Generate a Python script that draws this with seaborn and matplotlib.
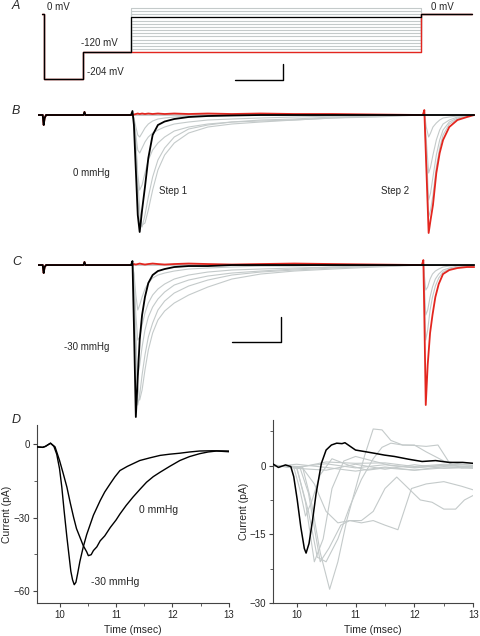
import matplotlib
matplotlib.use('Agg')
import matplotlib.pyplot as plt
from matplotlib.ticker import MultipleLocator
import seaborn as sns

#%% Datos

# Panel A: protocolo de voltaje (tiempo en ms, voltaje en mV)
t_protocolo = [0.4, 0.8, 9.0, 19.0, 79.4, 90.0]
v_prepulso = [0, -204, -120]
v_pasos = [20, 10, 0, -10, -20, -30, -40, -50, -60, -70, -80, -90, -100, -110, -120]
v_negro = -10
v_rojo = -120

# Linea de base comun (artefactos de los saltos de voltaje)
t_base = [-0.4, 0.6, 0.8, 1.0, 1.3, 9.1, 9.3, 9.5, 19.0]
b_base = [0, 0, -10, -3, 0, 0, 3, 0, 0]
c_base = [0, 0, -8, -2, 0, 0, 3, 0, 0]

t_paso1 = [19.3, 19.6, 20.0, 20.4, 20.8, 21.3, 21.9, 22.6, 23.5, 24.6,
           26, 28, 31, 35, 40, 46, 53, 61, 70, 79.5]
t_plano1 = [19.3, 79.5]
t_plano2 = [79.8, 90.5]

# Panel B (0 mmHg), corriente en pA
b_negro1 = [4, -10, -55, -100, -117, -95, -72, -43, -20, -10,
            -6.5, -4, -2, -1, -0.5, 0, 0, 0, 0, 0]
b_rojo1 = [0, 0.5, 1, 1.5, 1, 1.5, 1, 1.5, 1, 1.5,
           1, 1.5, 1, 1.5, 1, 1.5, 1, 1, 0.5, 0]
b_gris1 = [
    [0, -5, -35, -80, -108, -112, -100, -82, -62, -45, -33, -22, -14, -10, -7, -6, -5, -3, -1, 0],
    [0, -3, -25, -65, -95, -110, -108, -95, -75, -55, -40, -28, -18, -12, -9, -7, -5, -3, -2, 0],
    [0, -5, -30, -60, -75, -70, -58, -45, -35, -28, -22, -16, -12, -9, -7, -5, -4, -2, -1, 0],
    [0, -4, -20, -35, -38, -33, -27, -22, -18, -15, -12, -9, -7, -5, -4, -3, -2, -1, 0, 0],
    [0, -3, -12, -20, -22, -18, -13, -9, -6, -4, -3, -2, -1, -1, 0, 0, 0, 0, 0, 0],
]
b_t2 = [79.8, 80.1, 80.5, 81.0, 81.4, 81.9, 82.6, 83.3, 84.0, 85.3, 87, 89, 90.5]
b_rojo2 = [0, 5, -50, -118, -105, -90, -58, -38, -25, -12, -5, -2, 0]
b_gris2 = [
    [0, 3, -12, -22, -18, -12, -8, -5, -3, -2, -1, 0, 0],
    [0, 3, -25, -58, -52, -40, -25, -15, -9, -5, -2, -1, 0],
    [0, 3, -35, -85, -78, -62, -40, -25, -15, -7, -3, -1, 0],
    [0, 4, -45, -102, -95, -80, -52, -33, -20, -9, -4, -1, 0],
]

# Panel C (-30 mmHg)
c_negro1 = [4, -60, -152, -112, -75, -50, -32, -18, -10, -6,
            -4, -2, -1, -1, 0, 0, 0, 0, 0, 0]
c_rojo1 = [0, 1, 0.5, 1, 1.5, 1, 0.5, 1, 1.5, 1,
           0.5, 1, 1.5, 1, 0.5, 1, 1.5, 1, 0.5, 0]
c_gris1 = [
    [0, -20, -90, -140, -130, -110, -90, -72, -58, -45, -36, -28, -21, -15, -10, -7, -5, -3, -1, 0],
    [0, -15, -70, -120, -135, -125, -105, -85, -68, -55, -46, -38, -30, -22, -14, -9, -6, -4, -2, 0],
    [0, -20, -80, -110, -100, -82, -65, -52, -42, -34, -27, -20, -15, -11, -8, -6, -4, -2, -1, 0],
    [0, -10, -50, -75, -72, -60, -48, -38, -30, -24, -19, -14, -10, -7, -5, -4, -3, -2, -1, 0],
    [0, -8, -30, -45, -40, -32, -24, -18, -13, -10, -8, -6, -4, -3, -2, -1, -1, 0, 0, 0],
]
c_t2 = [79.6, 79.9, 80.1, 80.4, 80.8, 81.3, 81.8, 82.4, 83.1, 84, 85.3, 87, 89, 90.5]
c_rojo2 = [0, 5, -50, -140, -100, -68, -50, -32, -19, -9, -5, -3, -2, -2]
c_gris2 = [
    [0, 3, -10, -25, -22, -14, -9, -6, -4, -2, -1, 0, 0, 0],
    [0, 3, -20, -50, -45, -32, -22, -14, -9, -5, -3, -1, 0, 0],
    [0, 4, -30, -75, -65, -45, -32, -21, -13, -7, -4, -2, -1, 0],
]

# Panel D izquierdo: promedios
d_t0 = [9.6, 9.7, 9.75, 9.84, 9.92, 10.0, 10.06, 10.13, 10.19, 10.25, 10.3, 10.36,
        10.42, 10.48, 10.51, 10.56, 10.6, 10.66, 10.72, 10.8, 10.9, 11.0, 11.07,
        11.18, 11.3, 11.42, 11.54, 11.66, 11.78, 11.95, 12.13, 12.3, 12.48,
        12.63, 12.78, 13.0]
d_0mmHg = [-1, -1.2, -0.8, 0.5, -1, -6.6, -11.5, -17.5, -24, -30, -34.5, -38,
           -41.5, -44, -45.6, -45.2, -43.5, -42, -39.5, -37.5, -34, -31, -28.5,
           -25, -21.6, -18.5, -15.5, -13.2, -11.4, -9, -6.6, -5, -3.8,
           -3.1, -2.7, -3]
d_t30 = [9.6, 9.7, 9.75, 9.84, 9.9, 9.95, 10.0, 10.04, 10.08, 10.13, 10.17, 10.2,
         10.23, 10.26, 10.29, 10.32, 10.36, 10.42, 10.48, 10.54, 10.6, 10.66,
         10.72, 10.8, 10.9, 10.98, 11.07, 11.2, 11.42, 11.6, 11.78, 11.95,
         12.13, 12.3, 12.48, 12.7, 13.0]
d_30mmHg = [-1, -1.2, -0.8, 0.5, -0.8, -4, -10, -17.5, -27, -38, -46, -52,
            -55.5, -57.5, -56.5, -53, -48, -42, -37, -33, -29, -26,
            -23, -19.5, -16, -13.3, -10.7, -9, -6.6, -5.5, -4.5, -4,
            -3.6, -3.1, -2.7, -2.6, -2.7]

# Panel D derecho: diferencias
e_t_negro = [9.58, 9.69, 9.81, 9.9, 9.95, 10.01, 10.07, 10.13, 10.16, 10.21, 10.27,
             10.33, 10.42, 10.5, 10.59, 10.68, 10.77, 10.82, 10.91, 11.0, 11.14,
             11.32, 11.49, 11.66, 11.9, 12.13, 12.36, 12.59, 12.82, 13.0]
e_negro = [0.5, -0.4, 0.15, -0.2, -2.4, -7.5, -13.4, -18.1, -19.1, -17, -11.9,
           -6.1, 0.5, 3.4, 4.5, 4.9, 4.8, 5.0, 4.2, 3.4, 3.1,
           2.7, 2.3, 2.0, 1.4, 0.9, 1.1, 0.7, 0.7, 0.5]
e_t_plano = [9.6, 10.0, 10.5, 11.0, 11.5, 12.0, 12.5, 13.0]
e_planos = [
    [0, -0.3, 0.4, -0.5, 0.2, -0.4, 0.1, -0.3],
    [0.2, -0.6, -1.0, 0.3, -0.8, 0.2, -0.6, -0.2],
    [-0.2, 0.3, -0.4, -1.2, -0.3, -1.0, -0.2, -0.6],
    [0.1, -0.5, 0.8, 0.5, 0.6, -0.2, 0.3, 0.1],
]
e_gris_t = [
    [9.6, 10.0, 10.15, 10.3, 10.45, 10.6, 10.8, 11.0, 11.3, 11.6, 12.0, 12.5, 13.0],
    [9.6, 10.05, 10.2, 10.4, 10.55, 10.75, 10.9, 11.1, 11.3, 11.5, 11.72, 11.95, 12.2, 12.5, 12.8, 13.0],
    [9.6, 10.1, 10.25, 10.4, 10.56, 10.7, 10.85, 11.0, 11.15, 11.3, 11.45, 11.6, 11.8, 12.0, 12.2, 12.5, 12.8, 13.0],
    [9.6, 10.0, 10.2, 10.35, 10.5, 10.7, 10.9, 11.1, 11.3, 11.45, 11.6, 11.8, 12.0, 12.2, 12.4, 12.6, 12.8, 13.0],
    [9.6, 10.1, 10.3, 10.5, 10.7, 10.9, 11.1, 11.3, 11.5, 11.7, 11.9, 12.1, 12.3, 12.5, 12.7, 12.85, 13.0],
    [9.6, 9.95, 10.05, 10.15, 10.25, 10.4, 10.6, 10.9, 11.2, 11.5, 12.0, 12.5, 13.0],
]
e_gris_y = [
    [0, -0.3, -8, -21, -16, -5, 1, 2, 1, 0, -0.5, 0, -0.2],
    [0, -0.2, -6, -21, -18, -13, -12, -12.5, -12, -13, -14, -5, -4, -3.5, -4.5, -5.3],
    [0, -0.3, -8, -19, -27, -21, -12, -5, 2, 8, 7.8, 5.5, 4.5, 4.5, 3, 1, 0.3, 0],
    [0, -0.5, -10, -20, -21, -16, -9, -3, 1.5, 4, 4.9, 4.5, 4.4, 4.2, 4.5, 0.5, -0.5, -0.3],
    [0, -0.5, -4, -10, -12.5, -12, -12, -10, -5, -2.5, -5, -7.5, -8, -9.5, -9.5, -7.5, -6.5],
    [0, -0.3, -5, -11, -8, -2, 1.5, 0, -1, -0.5, -1, -0.5, -0.5],
]

#%% Estilo
GRIS = '#c4caca'
ROJO = '#e3261f'
NEGRO = 'black'
XLIM = (-0.4, 90.6)

sns.set_style('white')
plt.rcParams['font.family'] = ['Liberation Sans', 'DejaVu Sans']
plt.rcParams['font.size'] = 7


def linea(ax, x, y, color, lw, z, **kw):
    sns.lineplot(x=x, y=y, ax=ax, color=color, lw=lw, estimator=None,
                 sort=False, zorder=z, legend=False, **kw)


def trazo(ax, base, y1, y2, t2, color, lw, z):
    # une linea de base + respuesta al paso 1 + respuesta al paso 2
    t = t_base + (t_paso1 if y1 else t_plano1) + (t2 if y2 else t_plano2)
    y = base + (y1 if y1 else [0, 0]) + (y2 if y2 else [0, 0])
    linea(ax, t, y, color, lw, z)


fig = plt.figure(figsize=(4.8, 6.36), dpi=100)

#%% Panel A
axA = fig.add_axes([0.079, 0.866, 0.910, 0.129])
for v in v_pasos:
    linea(axA, t_protocolo, v_prepulso + [v, 0, 0], GRIS, 0.8, 1, drawstyle='steps-post')
linea(axA, t_protocolo, v_prepulso + [v_rojo, 0, 0], ROJO, 1.0, 2, drawstyle='steps-post')
linea(axA, t_protocolo, v_prepulso + [v_negro, 0, 0], NEGRO, 0.9, 3, drawstyle='steps-post')
axA.plot([40.6, 50.6, 50.6], [-206, -206, -156], color=NEGRO, lw=1)
axA.set_ylim(-224, 35)
axA.text(1.5, 22, '0 mV', va='center')
axA.text(8.5, -91, '-120 mV', va='center')
axA.text(9.8, -183, '-204 mV', va='center')
axA.text(81.5, 22, '0 mV', va='center')

#%% Panel B
axB = fig.add_axes([0.079, 0.6226, 0.910, 0.2123])
for g in b_gris1:
    trazo(axB, b_base, g, None, b_t2, GRIS, 0.8, 1)
for g in b_gris2:
    trazo(axB, b_base, None, g, b_t2, GRIS, 0.8, 1)
trazo(axB, b_base, b_negro1, None, b_t2, NEGRO, 1.3, 3)
trazo(axB, b_base, b_rojo1, b_rojo2, b_t2, ROJO, 1.3, 2)
axB.set_ylim(-125, 10)
axB.text(6.9, -58, '0 mmHg', va='center')
axB.text(24.8, -76, 'Step 1', va='center')
axB.text(71, -76, 'Step 2', va='center')

#%% Panel C
axC = fig.add_axes([0.079, 0.3396, 0.910, 0.2594])
for g in c_gris1:
    trazo(axC, c_base, g, None, c_t2, GRIS, 0.8, 1)
for g in c_gris2:
    trazo(axC, c_base, None, g, c_t2, GRIS, 0.8, 1)
trazo(axC, c_base, c_negro1, None, c_t2, NEGRO, 1.3, 3)
trazo(axC, c_base, c_rojo1, c_rojo2, c_t2, ROJO, 1.3, 2)
axC.plot([40.0, 50.2, 50.2], [-77, -77, -52], color=NEGRO, lw=1)
axC.set_ylim(-155, 10)
axC.text(5.0, -82, '-30 mmHg', va='center')

for ax in (axA, axB, axC):
    ax.set_xlim(*XLIM)
    ax.axis('off')

#%% Panel D
axD1 = fig.add_axes([0.077, 0.0519, 0.400, 0.280])
axD2 = fig.add_axes([0.569, 0.0519, 0.417, 0.288])

linea(axD1, d_t0, d_0mmHg, NEGRO, 1.0, 3)
linea(axD1, d_t30, d_30mmHg, NEGRO, 1.0, 3)
axD1.set_ylim(-65, 8)
axD1.set_yticks([0, -30, -60])
axD1.yaxis.set_minor_locator(MultipleLocator(15))
axD1.text(11.4, -27, '0 mmHg', va='center', fontsize=7.5)
axD1.text(10.55, -56.3, '-30 mmHg', va='center', fontsize=7.5)

for y in e_planos:
    linea(axD2, e_t_plano, y, GRIS, 0.8, 1)
for t, y in zip(e_gris_t, e_gris_y):
    linea(axD2, t, y, GRIS, 0.8, 1)
linea(axD2, e_t_negro, e_negro, NEGRO, 1.1, 3)
axD2.set_ylim(-30, 10)
axD2.set_yticks([0, -15, -30])
axD2.yaxis.set_minor_locator(MultipleLocator(7.5))

for ax in (axD1, axD2):
    ax.set_xlim(9.6, 13)
    ax.set_xticks([10, 11, 12, 13])
    ax.xaxis.set_minor_locator(MultipleLocator(0.5))
    ax.set_xlabel('Time (msec)', fontsize=7.5, labelpad=4)
    ax.set_ylabel('Current (pA)', fontsize=7.5)
    sns.despine(ax=ax)
    for s in ('left', 'bottom'):
        ax.spines[s].set_color('#444444')
        ax.spines[s].set_linewidth(0.8)
    ax.tick_params(which='major', direction='out', length=3, width=0.8,
                   color='#444444', labelsize=7, pad=2, left=True, bottom=True)
    ax.tick_params(which='minor', direction='out', length=2, width=0.6,
                   color='#444444', left=True, bottom=True)

axD1.yaxis.set_label_coords(-0.13, 0.5)
axD2.yaxis.set_label_coords(-0.12, 0.5)

#%% Letras de paneles
for letra, y_px in (('A', 6), ('B', 111), ('C', 262), ('D', 420)):
    fig.text(12 / 480, 1 - y_px / 636, letra, style='italic', fontsize=9, va='center')

fig.savefig('out.png', dpi=100)
